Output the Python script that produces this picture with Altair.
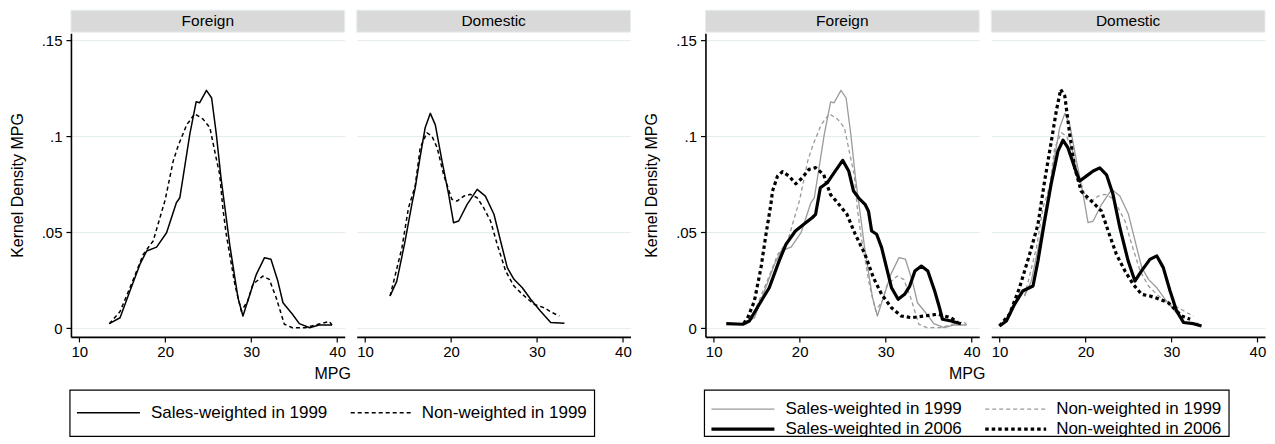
import altair as alt
import pandas as pd

# ---------------- data ----------------
series_names = ["Sales-weighted in 1999", "Non-weighted in 1999",
                "Sales-weighted in 2006", "Non-weighted in 2006"]
regions = ["Foreign", "Domestic"]
x_ticks = [10, 20, 30, 40]
y_ticks = [0, 0.05, 0.1, 0.15]
y_tick_labels = ["0", ".05", ".1", ".15"]

# Foreign
for_sw99_mpg = [13.5, 14.75, 15.9, 17.07, 17.85, 19.0, 20.16, 21.3, 21.7, 22.3, 22.86, 23.6, 24.0, 24.8, 25.4,
                25.95, 26.5, 27.1, 27.5, 28.46, 29.04, 29.6, 30.6, 31.55, 32.3, 33.1, 33.7, 34.8, 35.6, 36.8, 37.9, 39.4]
for_sw99_den = [0.0024, 0.0055, 0.0194, 0.0334, 0.0403, 0.0423, 0.0498, 0.0654, 0.068, 0.085, 0.101, 0.118, 0.1175,
                0.124, 0.120, 0.101, 0.078, 0.0576, 0.0437, 0.016, 0.0064, 0.0142, 0.0281, 0.0368, 0.036, 0.0246,
                0.0133, 0.0073, 0.0024, 0.0003, 0.0017, 0.0017]
for_nw99_mpg = [13.5, 14.75, 16.3, 17.45, 18.6, 19.39, 20.0, 20.93, 21.5, 22.5, 23.44, 24.4, 25.2, 25.76, 26.34,
                26.7, 27.1, 28.1, 28.85, 29.6, 30.2, 31.36, 32.1, 32.9, 33.86, 34.8, 36.3, 37.9, 39.1, 39.4]
for_nw99_den = [0.0024, 0.0087, 0.0255, 0.0385, 0.0455, 0.0576, 0.067, 0.0871, 0.095, 0.106, 0.1118, 0.109, 0.1045,
                0.0923, 0.080, 0.0628, 0.049, 0.0229, 0.009, 0.0142, 0.0229, 0.0272, 0.0255, 0.016, 0.0021, 0.0003,
                0.0003, 0.0022, 0.0035, 0.0017]
for_sw06_mpg = [11.46, 13.38, 14.15, 15.3, 16.46, 17.6, 18.4, 19.5, 20.7, 21.45, 21.85, 22.4, 23.2, 24.15, 25.0,
                25.7, 26.26, 26.84, 27.6, 28.0, 28.37, 28.95, 29.53, 30.1, 30.68, 31.45, 32.2, 32.8, 33.4, 34.15,
                34.9, 35.7, 36.26, 36.6, 37.6, 38.75]
for_sw06_den = [0.0024, 0.0021, 0.0038, 0.0125, 0.0211, 0.035, 0.0437, 0.0507, 0.055, 0.0576, 0.0594, 0.0732, 0.0758,
                0.082, 0.0875, 0.082, 0.0715, 0.068, 0.0646, 0.061, 0.0507, 0.049, 0.042, 0.0316, 0.0211, 0.0151,
                0.0177, 0.022, 0.0298, 0.0324, 0.0298, 0.0194, 0.0107, 0.0047, 0.0038, 0.0024]
for_nw06_mpg = [13.5, 14.0, 14.73, 15.5, 16.08, 16.65, 16.84, 17.42, 18.0, 18.77, 19.54, 20.3, 21.07, 21.85, 22.8,
                23.57, 24.3, 25.5, 26.46, 27.6, 28.57, 29.53, 30.68, 31.8, 33.0, 34.5, 36.07, 37.6, 38.4]
for_nw06_den = [0.0025, 0.006, 0.0142, 0.0316, 0.049, 0.0646, 0.0715, 0.0793, 0.0816, 0.0793, 0.0753, 0.0784,
                0.0828, 0.0837, 0.080, 0.0698, 0.066, 0.0594, 0.049, 0.0385, 0.0264, 0.0177, 0.0107, 0.0064,
                0.0055, 0.0064, 0.0073, 0.0055, 0.003]

# Domestic
dom_sw99_mpg = [12.92, 13.7, 14.67, 15.45, 15.84, 16.4, 17.0, 17.6, 18.18, 18.96, 19.73, 20.3, 20.9, 21.88, 23.05,
                24.0, 25.0, 25.77, 26.55, 27.33, 28.3, 29.27, 30.4, 31.6, 33.2]
dom_sw99_den = [0.0168, 0.0246, 0.0455, 0.0646, 0.0732, 0.0889, 0.1045, 0.112, 0.106, 0.0871, 0.0698, 0.055, 0.0559,
                0.0646, 0.0724, 0.0689, 0.0594, 0.0455, 0.0316, 0.0255, 0.0211, 0.0151, 0.009, 0.003, 0.0026]
dom_nw99_mpg = [12.92, 14.3, 15.06, 15.84, 16.42, 17.2, 17.8, 18.4, 19.15, 20.1, 20.7, 21.5, 22.27, 23.05, 23.8,
                24.6, 25.38, 26.36, 27.33, 28.3, 29.66, 30.83, 31.8, 32.6]
dom_nw99_den = [0.0168, 0.042, 0.0628, 0.0741, 0.094, 0.1019, 0.100, 0.094, 0.080, 0.0672, 0.0663, 0.0689, 0.0698,
                0.068, 0.0628, 0.0559, 0.0437, 0.0298, 0.022, 0.0177, 0.0125, 0.0107, 0.0081, 0.0064]
dom_sw06_mpg = [10.0, 10.8, 11.75, 12.7, 13.9, 14.47, 15.25, 16.0, 16.8, 17.39, 17.97, 18.75, 19.33, 20.1, 20.9,
                21.67, 22.45, 23.2, 24.0, 24.97, 25.75, 26.5, 27.5, 28.3, 29.05, 29.84, 30.6, 31.4, 32.55, 33.5]
dom_sw06_den = [0.0012, 0.0038, 0.0125, 0.0194, 0.022, 0.035, 0.0559, 0.075, 0.0923, 0.098, 0.094, 0.0836, 0.0767,
                0.0793, 0.082, 0.0836, 0.080, 0.0698, 0.0524, 0.035, 0.0246, 0.0298, 0.0359, 0.0377, 0.0316, 0.0194,
                0.009, 0.003, 0.0024, 0.0012]
dom_nw06_mpg = [10.0, 11.17, 12.33, 13.5, 14.47, 15.25, 16.03, 16.6, 17.12, 17.6, 18.17, 18.75, 19.5, 20.3, 21.08,
                21.87, 22.64, 23.6, 24.6, 25.55, 26.53, 27.5, 28.67, 29.64, 30.4, 31.2, 32.17]
dom_nw06_den = [0.0012, 0.0073, 0.0211, 0.0385, 0.054, 0.0767, 0.0975, 0.113, 0.1245, 0.121, 0.101, 0.0836, 0.0715,
                0.068, 0.0646, 0.061, 0.0507, 0.0385, 0.0298, 0.0229, 0.0177, 0.0168, 0.0151, 0.0133, 0.0099,
                0.0064, 0.0047]

curves = [
    ("Foreign", series_names[0], for_sw99_mpg, for_sw99_den),
    ("Foreign", series_names[1], for_nw99_mpg, for_nw99_den),
    ("Foreign", series_names[2], for_sw06_mpg, for_sw06_den),
    ("Foreign", series_names[3], for_nw06_mpg, for_nw06_den),
    ("Domestic", series_names[0], dom_sw99_mpg, dom_sw99_den),
    ("Domestic", series_names[1], dom_nw99_mpg, dom_nw99_den),
    ("Domestic", series_names[2], dom_sw06_mpg, dom_sw06_den),
    ("Domestic", series_names[3], dom_nw06_mpg, dom_nw06_den),
]
rows = []
for reg, ser, xs, ys in curves:
    for i, (xv, yv) in enumerate(zip(xs, ys)):
        rows.append({"region": reg, "series": ser, "mpg": xv, "density": yv, "idx": i})
df = pd.DataFrame(rows)

# ---------------- styling ----------------
FONT = "Liberation Sans"
W, H = 274, 304
XDOM = [9.04, 40.88]
YDOM = [-0.0045, 0.1538]
GRID = "#e4eded"
GRAY = "#9a9a9a"

style_left = {
    series_names[0]: dict(color="black", strokeWidth=1.5),
    series_names[1]: dict(color="black", strokeWidth=1.5, strokeDash=[4, 3]),
}
style_right = {
    series_names[0]: dict(color=GRAY, strokeWidth=1.3),
    series_names[1]: dict(color=GRAY, strokeWidth=1.3, strokeDash=[4, 3]),
    series_names[2]: dict(color="black", strokeWidth=3.2),
    series_names[3]: dict(color="black", strokeWidth=3.2, strokeDash=[3.5, 3]),
}

label_expr = " : ".join(
    [f"datum.value >= {v - 0.01} ? '{l}'" for v, l in sorted(zip(y_ticks, y_tick_labels), reverse=True) if v > 0]
) + " : '0'"


def one(v):
    return pd.DataFrame({"t": [v]})


def panel(region, styles, first, legend_entries=None, legend_rows=None):
    xenc = alt.X("mpg:Q", scale=alt.Scale(domain=XDOM, nice=False, zero=False),
                 axis=alt.Axis(values=x_ticks, title=None, grid=False, domainColor="black", domainWidth=1.6,
                               tickColor="black", tickSize=5, tickWidth=1.2, labelFontSize=15, labelPadding=3,
                               labelColor="black", labelFont=FONT))
    if first:
        yaxis = alt.Axis(values=y_ticks, labelExpr=label_expr, title="Kernel Density MPG", grid=True,
                         gridColor=GRID, gridWidth=1, domainColor="black", domainWidth=1.6, tickColor="black",
                         tickSize=5, tickWidth=1.2, labelFontSize=15, labelPadding=4, labelColor="black",
                         labelFont=FONT, titleFont=FONT, titleFontSize=16, titleFontWeight="normal",
                         titlePadding=16, titleColor="black")
    else:
        yaxis = alt.Axis(values=y_ticks, title=None, grid=True, gridColor=GRID, gridWidth=1, domain=False,
                         ticks=False, labels=False)
    yenc = alt.Y("density:Q", scale=alt.Scale(domain=YDOM, nice=False, zero=False), axis=yaxis)

    layers = []
    for s, st in styles.items():
        layers.append(
            alt.Chart(df).transform_filter((alt.datum.region == region) & (alt.datum.series == s))
            .mark_line(strokeCap="butt", strokeJoin="round", **st)
            .encode(x=xenc, y=yenc, order="idx:Q")
        )
    # facet strip
    layers.append(alt.Chart(one(region)).mark_rect(fill="#d9d9d9", stroke="#e6eef0", strokeWidth=1)
                  .encode(x=alt.value(0), x2=alt.value(W), y=alt.value(-23), y2=alt.value(-1)))
    layers.append(alt.Chart(one(region)).mark_text(font=FONT, fontSize=15.5, color="black",
                                                    baseline="middle", align="center")
                  .encode(x=alt.value(W / 2), y=alt.value(-12), text="t:N"))
    if first:
        # shared x-axis title
        layers.append(alt.Chart(one("MPG")).mark_text(font=FONT, fontSize=16, color="black",
                                                       baseline="middle", align="center")
                      .encode(x=alt.value(262), y=alt.value(341), text="t:N"))
        # legend frame
        layers.append(alt.Chart(one("frame")).mark_rect(fill="transparent", stroke="black", strokeWidth=1.2)
                      .encode(x=alt.value(-1), x2=alt.value(524), y=alt.value(357.3), y2=alt.value(403.5)))
        cols = [(6, 69, 80), (280, 341, 351)]
        for s, col, row in legend_entries:
            st = dict(styles[s])
            x0, x1, xt = cols[col]
            yv = legend_rows[row]
            layers.append(alt.Chart(one(s)).mark_rule(strokeCap="butt", **st)
                          .encode(x=alt.value(x0), x2=alt.value(x1), y=alt.value(yv)))
            layers.append(alt.Chart(one(s)).mark_text(font=FONT, fontSize=17, color="black",
                                                       baseline="middle", align="left")
                          .encode(x=alt.value(xt), y=alt.value(yv), text="t:N"))
    return alt.layer(*layers).properties(width=W, height=H)


# invisible spacer between the two figures
spacer = alt.Chart(one("")).mark_rect(opacity=0).encode(
    x=alt.value(0), x2=alt.value(1), y=alt.value(0), y2=alt.value(1)
).properties(width=51, height=H)

chart = alt.hconcat(
    panel("Foreign", style_left, True,
          legend_entries=[(series_names[0], 0, 0), (series_names[1], 1, 0)], legend_rows=[380]),
    panel("Domestic", style_left, False),
    spacer,
    panel("Foreign", style_right, True,
          legend_entries=[(series_names[0], 0, 0), (series_names[1], 1, 0),
                          (series_names[2], 0, 1), (series_names[3], 1, 1)],
          legend_rows=[376.3, 396.3]),
    panel("Domestic", style_right, False),
    spacing=12,
).properties(
    bounds="flush", padding={"left": 0, "top": 1, "right": 0, "bottom": 0}
).configure(font=FONT).configure_view(stroke="transparent")

chart.save("out.html", embed_options={"renderer": "svg", "actions": False})
